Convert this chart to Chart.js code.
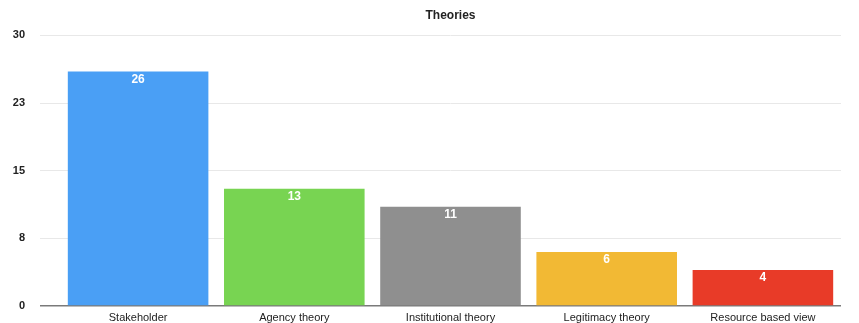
<!DOCTYPE html>
<html>
<head>
<meta charset="utf-8">
<script src="https://cdn.jsdelivr.net/npm/chart.js@4"></script>
<style>
  html, body { margin: 0; padding: 0; background: #fff; overflow: hidden; }
  canvas { display: block; }
</style>
</head>
<body>
<canvas id="theoriesChart" width="859" height="323"></canvas>
<script>
const categories = ["Stakeholder", "Agency theory", "Institutional theory", "Legitimacy theory", "Resource based view"];
const counts = [26, 13, 11, 6, 4];
const barColors = ["#4a9ff5", "#78d452", "#8f8f8f", "#f2b934", "#e83b28"];
const yTicks = [0, 7.5, 15, 22.5, 30];

// white count printed just inside the top of each bar
const barLabels = {
  id: "barLabels",
  afterDatasetsDraw(chart) {
    const ctx = chart.ctx;
    const meta = chart.getDatasetMeta(0);
    ctx.save();
    ctx.fillStyle = "#ffffff";
    ctx.font = "bold 12px 'Liberation Sans', Arial, sans-serif";
    ctx.textAlign = "center";
    ctx.textBaseline = "top";
    meta.data.forEach((bar, i) => {
      ctx.fillText(String(counts[i]), bar.x, bar.y + 2);
    });
    ctx.restore();
  }
};

new Chart(document.getElementById("theoriesChart"), {
  type: "bar",
  data: {
    labels: categories,
    datasets: [{
      data: counts,
      backgroundColor: barColors,
      barPercentage: 0.9,
      categoryPercentage: 1.0
    }]
  },
  options: {
    responsive: false,
    animation: false,
    layout: { padding: { left: 12, right: 18, top: 0, bottom: 0 } },
    plugins: {
      legend: { display: false },
      tooltip: { enabled: false },
      title: {
        display: true,
        text: "Theories",
        fullSize: false,
        color: "#222",
        font: { family: "'Liberation Sans', Arial, sans-serif", size: 12, weight: "bold" },
        padding: { top: 8, bottom: 13 }
      }
    },
    scales: {
      x: {
        afterFit(axis) {
          axis.height = 17;
        },
        grid: { display: false, drawTicks: false },
        border: { display: false },
        ticks: {
          color: "#222",
          padding: 6,
          font: { family: "'Liberation Sans', Arial, sans-serif", size: 11, lineHeight: 1 }
        }
      },
      y: {
        min: 0,
        max: 30,
        afterBuildTicks(axis) {
          axis.ticks = yTicks.map(v => ({ value: v }));
        },
        afterFit(axis) {
          axis.width = 48;
          axis.paddingTop = 0;
          axis.paddingBottom = 0;
        },
        grid: {
          color: c => c.tick && c.tick.value === 0 ? "#7a7a7a" : "#e8e8e8",
          lineWidth: c => c.tick && c.tick.value === 0 ? 1.5 : 1,
          tickLength: 20
        },
        border: { display: false },
        ticks: {
          color: "#222",
          padding: 15,
          font: { family: "'Liberation Sans', Arial, sans-serif", size: 11, weight: "bold" },
          callback: v => Math.round(v)
        }
      }
    }
  },
  plugins: [barLabels]
});
</script>
</body>
</html>
